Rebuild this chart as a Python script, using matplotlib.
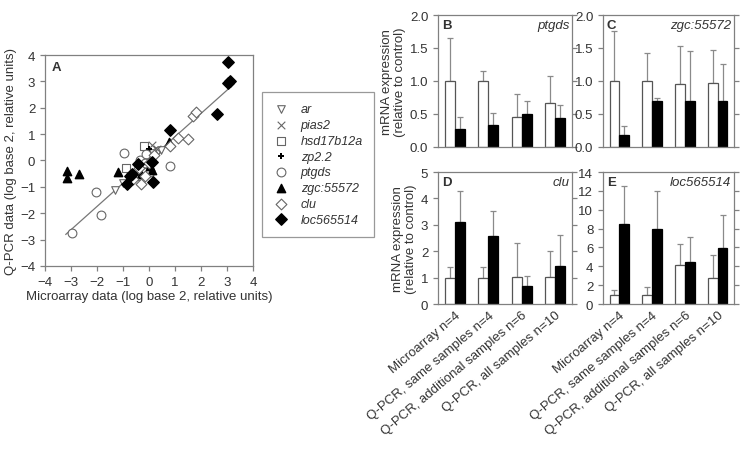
import numpy as np
import matplotlib
matplotlib.use("Agg")
import matplotlib.pyplot as plt

plt.rcParams['font.family'] = ['Liberation Sans', 'DejaVu Sans']
plt.rcParams['font.size'] = 9.5
TXT = '#333333'
GRID = '#808080'

# ---------------- panel A data (log2 ratios) ----------------
ar_x = [-1.3, -1.0, -0.55, 0.15, 0.35, 0.45]
ar_y = [-1.1, -0.85, -0.6, 0.3, 0.35, 0.4]
pias2_x = [0.1, -0.05, 0.3]
pias2_y = [0.6, 0.1, 0.45]
hsd_x = [-0.9, -0.25, -0.2, -0.05, -0.45]
hsd_y = [-0.28, -0.45, 0.55, 0.05, -0.6]
zp_x = [0.0, -0.1]
zp_y = [0.45, 0.0]
ptgds_x = [-2.95, -2.05, -1.85, -0.95, 0.8, -0.35, -0.1, 0.05, -0.15]
ptgds_y = [-2.76, -1.18, -2.08, 0.28, -0.2, 0.0, 0.25, -0.45, -0.1]
zgc_x = [-3.15, -3.15, -2.7, -1.2, 0.75, 0.05, 0.1, -0.3]
zgc_y = [-0.4, -0.68, -0.52, -0.45, 0.7, -0.2, -0.35, -0.5]
clu_x = [-0.3, -0.15, 0.8, 1.1, 1.5, 1.7, 1.8, -0.4, 0.0, 0.2, -0.6]
clu_y = [-0.9, -0.6, 0.55, 0.85, 0.8, 1.7, 1.85, -0.3, -0.1, 0.2, -0.7]
loc_x = [3.05, 3.1, 3.05, 2.6, 0.8, 0.15, -0.85, -0.42, -0.65, -0.75, 0.1]
loc_y = [3.72, 3.0, 2.95, 1.75, 1.15, -0.8, -0.9, -0.15, -0.5, -0.6, -0.05]
fit_x = [-3.2, 3.15]
fit_y = [-2.8, 2.8]

# ---------------- panels B-E data ----------------
groups = ["Microarray n=4", "Q-PCR, same samples n=4",
          "Q-PCR, additional samples n=6", "Q-PCR, all samples n=10"]
ptgds_ctrl = [1.0, 1.0, 0.46, 0.67]
ptgds_ctrl_top = [1.65, 1.15, 0.81, 1.07]
ptgds_trt = [0.28, 0.34, 0.50, 0.44]
ptgds_trt_top = [0.46, 0.52, 0.70, 0.64]
zgc_ctrl = [1.0, 1.0, 0.95, 0.97]
zgc_ctrl_top = [1.75, 1.42, 1.53, 1.47]
zgc_trt = [0.18, 0.69, 0.70, 0.70]
zgc_trt_top = [0.32, 0.74, 1.45, 1.25]
clu_ctrl = [1.0, 1.0, 1.02, 1.02]
clu_ctrl_top = [1.4, 1.42, 2.3, 2.0]
clu_trt = [3.1, 2.57, 0.68, 1.43]
clu_trt_top = [4.3, 3.52, 1.08, 2.6]
loc_ctrl = [1.0, 1.0, 4.1, 2.8]
loc_ctrl_top = [1.5, 1.8, 6.4, 5.2]
loc_trt = [8.5, 8.0, 4.5, 5.9]
loc_trt_top = [12.5, 12.0, 7.1, 9.4]

fig = plt.figure(figsize=(7.43, 4.52), dpi=100)


def style_axes(ax):
    for s in ax.spines.values():
        s.set_color(GRID)
        s.set_linewidth(0.9)
    ax.tick_params(colors=GRID, labelcolor=TXT, length=3.5, width=0.9)


# ---------------- panel A ----------------
axA = fig.add_axes([0.0606, 0.4093, 0.28, 0.4668])
style_axes(axA)
axA.plot(fit_x, fit_y, color='#777777', lw=0.9, zorder=1)
h = []
h.append(axA.scatter(ar_x, ar_y, marker='v', s=30, facecolors='white', edgecolors='#666666', lw=0.8, label='ar'))
h.append(axA.scatter(pias2_x, pias2_y, marker='x', s=30, color='#666666', lw=0.8, label='pias2'))
h.append(axA.scatter(hsd_x, hsd_y, marker='s', s=30, facecolors='white', edgecolors='#666666', lw=0.8, label='hsd17b12a'))
h.append(axA.scatter(zp_x, zp_y, marker='P', s=18, color='black', lw=0, label='zp2.2'))
h.append(axA.scatter(ptgds_x, ptgds_y, marker='o', s=40, facecolors='white', edgecolors='#666666', lw=0.8, label='ptgds'))
h.append(axA.scatter(zgc_x, zgc_y, marker='^', s=36, color='black', label='zgc:55572'))
h.append(axA.scatter(clu_x, clu_y, marker='D', s=30, facecolors='white', edgecolors='#666666', lw=0.8, label='clu'))
h.append(axA.scatter(loc_x, loc_y, marker='D', s=34, color='black', label='loc565514'))
axA.set_xlim(-4, 4)
axA.set_ylim(-4, 4)
axA.set_xticks(range(-4, 5))
axA.set_yticks(range(-4, 5))
axA.set_xlabel("Microarray data (log base 2, relative units)", color=TXT, labelpad=2)
axA.set_ylabel("Q-PCR data (log base 2, relative units)", color=TXT, labelpad=2)
axA.text(0.03, 0.97, 'A', transform=axA.transAxes, ha='left', va='top', fontweight='bold', color=TXT)

leg = fig.legend(handles=h, loc='upper left', bbox_to_anchor=(0.3526, 0.794),
                 frameon=True, fancybox=False, prop={'style': 'italic', 'size': 9},
                 handlelength=1.2, handletextpad=1.0, labelspacing=0.3, borderpad=0.9,
                 borderaxespad=0)
leg.get_frame().set_edgecolor(GRID)
leg.get_frame().set_linewidth(0.9)
for t in leg.get_texts():
    t.set_color(TXT)

# ---------------- panels B-E ----------------
panels = [
    ([0.5895, 0.6726, 0.1803, 0.292], 'B', 'ptgds', ptgds_ctrl, ptgds_ctrl_top, ptgds_trt, ptgds_trt_top, 2.0, np.arange(0, 2.01, 0.5), '%.1f', True, False),
    ([0.8116, 0.6726, 0.1763, 0.292], 'C', 'zgc:55572', zgc_ctrl, zgc_ctrl_top, zgc_trt, zgc_trt_top, 2.0, np.arange(0, 2.01, 0.5), '%.1f', False, False),
    ([0.5895, 0.3252, 0.1803, 0.292], 'D', 'clu', clu_ctrl, clu_ctrl_top, clu_trt, clu_trt_top, 5, np.arange(0, 6, 1), '%d', True, True),
    ([0.8116, 0.3252, 0.1763, 0.292], 'E', 'loc565514', loc_ctrl, loc_ctrl_top, loc_trt, loc_trt_top, 14, np.arange(0, 15, 2), '%d', False, True),
]

xpos = np.arange(len(groups))
bw = 0.3
for rect, letter, gene, c, ct, t, tt, ymax, yt, fmt, ylab, xlab in panels:
    ax = fig.add_axes(rect)
    style_axes(ax)
    c = np.array(c); ct = np.array(ct); t = np.array(t); tt = np.array(tt)
    ax.bar(xpos - bw / 2, c, bw, color='white', edgecolor='#555555', lw=0.9, zorder=2)
    ax.bar(xpos + bw / 2, t, bw, color='black', edgecolor='black', lw=0.9, zorder=2)
    ax.errorbar(xpos - bw / 2, c, yerr=[np.zeros(4), ct - c], fmt='none',
                ecolor='#8a8a8a', elinewidth=0.9, capsize=2.5, capthick=0.9, zorder=1)
    ax.errorbar(xpos + bw / 2, t, yerr=[np.zeros(4), tt - t], fmt='none',
                ecolor='#8a8a8a', elinewidth=0.9, capsize=2.5, capthick=0.9, zorder=1)
    ax.set_xlim(-0.5, 3.5)
    ax.set_ylim(0, ymax)
    ax.set_yticks(yt)
    ax.set_yticklabels([fmt % v for v in yt])
    ax.tick_params(axis='y', right=True)
    ax.set_xticks(xpos)
    ax.tick_params(axis='x', length=0)
    if xlab:
        ax.set_xticklabels(groups, rotation=40, ha='right', rotation_mode='anchor')
    else:
        ax.set_xticklabels([])
    if ylab:
        ax.set_ylabel("mRNA expression\n(relative to control)", color=TXT, labelpad=3, linespacing=1.1)
    ax.text(0.03, 0.97, letter, transform=ax.transAxes, ha='left', va='top', fontweight='bold', color=TXT)
    ax.text(0.98, 0.97, gene, transform=ax.transAxes, ha='right', va='top', style='italic', color=TXT)

fig.savefig("out.png", dpi=100)
